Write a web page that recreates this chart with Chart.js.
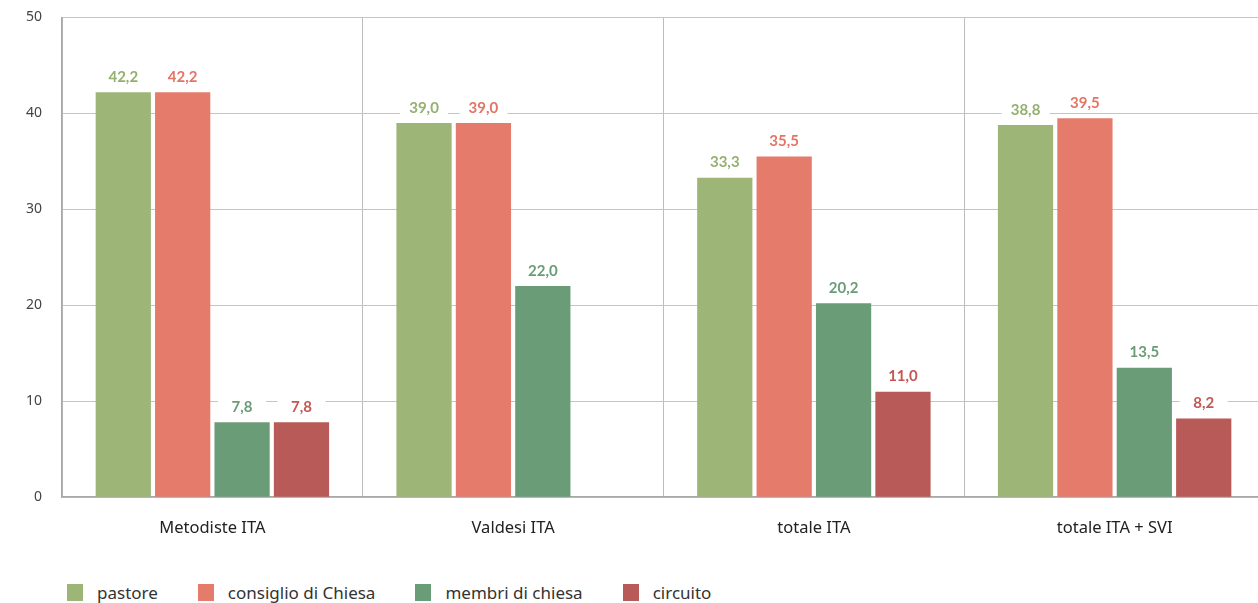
<!DOCTYPE html>
<html>
<head>
<meta charset="utf-8">
<script src="https://cdn.jsdelivr.net/npm/chart.js@4/dist/chart.umd.min.js"></script>
<style>
	html, body { margin: 0; padding: 0; background: #fff; overflow: hidden; }
	body { width: 1258px; height: 603px; font-family: "Noto Sans", Lato, sans-serif; }
	.wrap { position: absolute; left: 0; top: -11px; width: 1270px; height: 570px; }
	.legend { position: absolute; left: 67px; top: 581px; display: flex; align-items: center; font-size: 17px; color: #333; }
	.legend span.item { display: flex; align-items: center; margin-right: 40px; }
	.legend i { display: inline-block; width: 16px; height: 17px; margin-right: 14px; }
</style>
</head>
<body>
<div class="wrap"><canvas id="chart"></canvas></div>
<div class="legend" id="legend"></div>
<script>
const categories = [ 'Metodiste ITA', 'Valdesi ITA', 'totale ITA', 'totale ITA + SVI' ];
const seriesNames = [ 'pastore', 'consiglio di Chiesa', 'membri di chiesa', 'circuito' ];
const pastore = [ 42.2, 39.0, 33.3, 38.8 ];
const consiglio = [ 42.2, 39.0, 35.5, 39.5 ];
const membri = [ 7.8, 22.0, 20.2, 13.5 ];
const circuito = [ 7.8, null, 11.0, 8.2 ];
const yTicks = [ 0, 10, 20, 30, 40, 50 ];

const barColors = [ '#9db678', '#e57b6b', '#6b9c78', '#b85a57' ];
const labelColors = [ '#94b070', '#e57464', '#6b9c78', '#c25753' ];
const textFont = '"Noto Sans", Lato, sans-serif';
const valueFont = 'Lato, "Noto Sans", sans-serif';

const fmt = ( v ) => v.toFixed( 1 ).replace( '.', ',' );

// value labels above each bar, on a white box that cuts the grid line
const valueLabels = {
	id: 'valueLabels',
	afterDatasetsDraw( chart ) {
		const ctx = chart.ctx;
		ctx.save();
		ctx.font = 'bold 15px ' + valueFont;
		ctx.textAlign = 'center';
		ctx.textBaseline = 'middle';
		chart.data.datasets.forEach( ( ds, di ) => {
			chart.getDatasetMeta( di ).data.forEach( ( bar, i ) => {
				const v = ds.data[ i ];
				if ( v === null ) {
					return;
				}
				const y = bar.y - 15;
				ctx.fillStyle = '#fff';
				ctx.fillRect( bar.x - 24, y - 9, 48, 18 );
				ctx.fillStyle = labelColors[ di ];
				ctx.fillText( fmt( v ), bar.x, y );
			} );
		} );
		ctx.restore();
	},
};

const seriesData = [ pastore, consiglio, membri, circuito ];

const chart = new Chart( document.getElementById( 'chart' ), {
	type: 'bar',
	data: {
		labels: categories,
		datasets: seriesData.map( ( data, i ) => ( {
			label: seriesNames[ i ],
			data,
			backgroundColor: barColors[ i ],
			categoryPercentage: 0.79,
			barPercentage: 0.93,
		} ) ),
	},
	options: {
		responsive: true,
		maintainAspectRatio: false,
		animation: false,
		layout: { padding: { top: 6, right: 5, left: 0, bottom: 0 } },
		plugins: {
			legend: { display: false },
			tooltip: { enabled: false },
		},
		scales: {
			x: {
				grid: { color: '#bdbdbd', drawTicks: false, offset: true },
				border: { color: '#a8a8a8', width: 1.5 },
				ticks: { color: '#222', padding: 21, font: { family: textFont, size: 16.5 } },
			},
			y: {
				min: 0,
				max: 50,
				afterBuildTicks( scale ) {
					scale.ticks = yTicks.map( ( value ) => ( { value } ) );
				},
				afterFit( scale ) {
					scale.width = 62;
				},
				grid: { color: '#c4c4c4', drawTicks: false },
				border: { color: '#a8a8a8', width: 1.5 },
				ticks: { color: '#444', padding: 20, font: { family: textFont, size: 14 } },
			},
		},
	},
	plugins: [ valueLabels ],
} );

const legend = document.getElementById( 'legend' );
chart.data.datasets.forEach( ( ds ) => {
	const item = document.createElement( 'span' );
	item.className = 'item';
	item.innerHTML = '<i style="background:' + ds.backgroundColor + '"></i>' + ds.label;
	legend.appendChild( item );
} );
</script>
</body>
</html>
